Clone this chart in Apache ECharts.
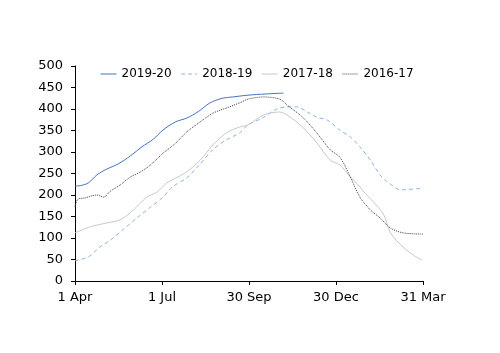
<!DOCTYPE html>
<html><head><meta charset="utf-8">
<script src="https://cdn.jsdelivr.net/npm/echarts@6/dist/echarts.min.js"></script>
<style>html,body{margin:0;padding:0;background:#fff}#c{width:500px;height:353px}</style>
</head><body><div id="c"></div>
<script>
// x = days since 1 Apr
const tickDays = [0, 91, 182, 273, 364];
const tickLabels = ['1 Apr', '1 Jul', '30 Sep', '30 Dec', '31 Mar'];
const yTicks = [0, 50, 100, 150, 200, 250, 300, 350, 400, 450, 500];

const days2019 = [0, 6, 14, 23, 33, 45, 58, 70, 82, 92, 105, 117, 129, 141, 154, 165, 180, 200, 218];
const vals2019 = [221, 222, 228, 247, 260, 272, 291, 312, 330, 351, 370, 379, 394, 414, 425, 428, 432, 435, 437];

const days2018 = [0, 14, 26, 37, 50, 65, 78, 92, 102, 117, 130, 144, 158, 172, 181, 197, 211, 222, 232, 243, 253, 264, 277, 288, 298, 309, 319, 327, 341, 364];
const vals2018 = [47, 56, 79, 95, 119, 147, 170, 195, 219, 240, 270, 305, 328, 344, 363, 380, 400, 405, 405, 393, 381, 374, 351, 335, 312, 281, 247, 230, 212, 216];

const days2017 = [0, 16, 33, 47, 61, 75, 86, 96, 115, 131, 144, 158, 172, 181, 197, 214, 225, 238, 253, 267, 277, 288, 298, 301, 322, 330, 343, 354, 363];
const vals2017 = [112, 126, 135, 142, 165, 195, 207, 228, 251, 281, 316, 344, 358, 363, 386, 393, 381, 358, 321, 281, 270, 242, 219, 210, 158, 112, 79, 60, 49];

const days2016 = [0, 3, 10, 23, 30, 37, 47, 58, 68, 79, 92, 105, 117, 131, 144, 158, 172, 181, 197, 214, 222, 238, 253, 267, 277, 288, 298, 309, 319, 330, 343, 364];
const vals2016 = [172, 190, 193, 200, 195, 209, 223, 242, 253, 270, 297, 320, 347, 370, 390, 402, 414, 423, 428, 423, 409, 381, 344, 305, 288, 242, 195, 165, 147, 123, 112, 109];

function pairs(d, v) { return d.map((x, i) => [x, v[i]]); }

const font = 'DejaVu Sans';
const chart = echarts.init(document.getElementById('c'));
chart.setOption({
  animation: false,
  backgroundColor: '#fff',
  grid: { left: 75, right: 77, top: 66, bottom: 72 },
  legend: {
    top: 63, left: 95, itemWidth: 16, itemHeight: 9, itemGap: 9,
    lineStyle: { width: 1 },
    itemStyle: { opacity: 0 },
    textStyle: { fontFamily: font, fontSize: 12, color: '#000' },
    data: ['2019-20', '2018-19', '2017-18', '2016-17']
  },
  xAxis: {
    type: 'value', min: 0, max: 364, interval: 91,
    splitLine: { show: false },
    axisLine: { lineStyle: { color: '#000', width: 1 } },
    axisTick: { show: true, length: 4, lineStyle: { color: '#000' } },
    axisLabel: { fontFamily: font, fontSize: 13, color: '#000', margin: 10,
      formatter: v => { const i = tickDays.indexOf(v); return i >= 0 ? tickLabels[i] : ''; } }
  },
  yAxis: {
    type: 'value', min: yTicks[0], max: yTicks[yTicks.length - 1], interval: 50,
    splitLine: { show: false },
    axisLine: { show: true, lineStyle: { color: '#000', width: 1 } },
    axisTick: { show: true, length: 4, lineStyle: { color: '#000' } },
    axisLabel: { fontFamily: font, fontSize: 13, color: '#000', margin: 12 }
  },
  series: [
    { name: '2019-20', type: 'line', data: pairs(days2019, vals2019), symbol: 'none', smooth: 0.3,
      lineStyle: { color: '#4472C4', width: 1 }, itemStyle: { color: '#4472C4' } },
    { name: '2018-19', type: 'line', data: pairs(days2018, vals2018), symbol: 'none', smooth: 0.3,
      lineStyle: { color: '#8DB4E2', width: 1, type: [4, 3] }, itemStyle: { color: '#8DB4E2' } },
    { name: '2017-18', type: 'line', data: pairs(days2017, vals2017), symbol: 'none', smooth: 0.3,
      lineStyle: { color: '#C8C8C8', width: 1 }, itemStyle: { color: '#C8C8C8' } },
    { name: '2016-17', type: 'line', data: pairs(days2016, vals2016), symbol: 'none', smooth: 0.3,
      lineStyle: { color: '#404040', width: 1, type: [1, 1] }, itemStyle: { color: '#404040' } }
  ]
});
</script></body></html>
